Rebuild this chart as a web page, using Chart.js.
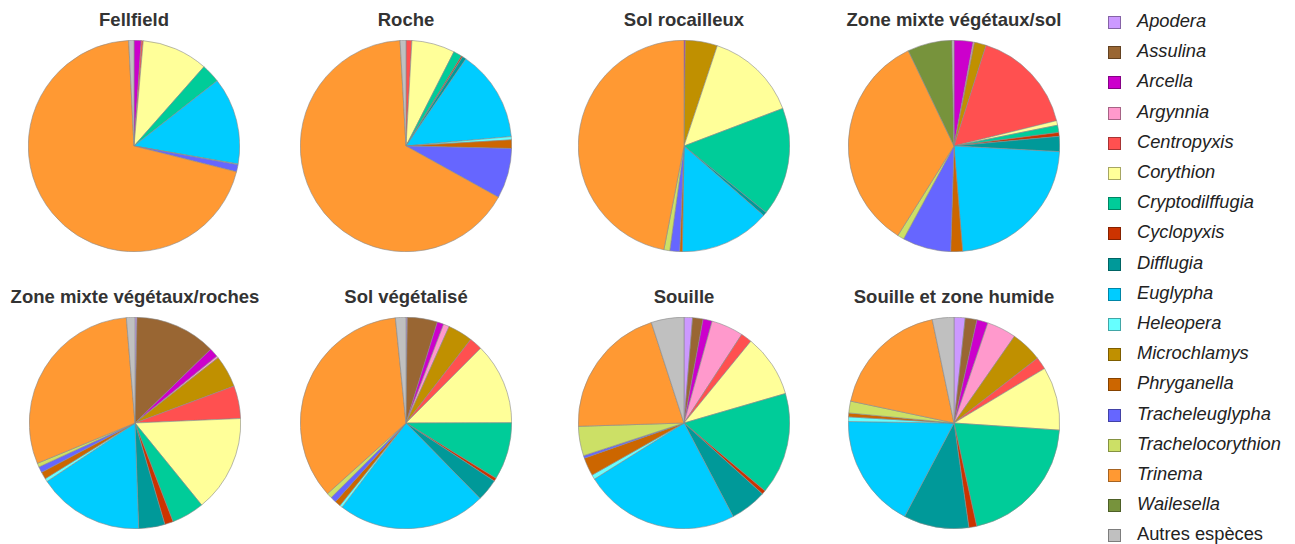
<!DOCTYPE html>
<html>
<head>
<meta charset="utf-8">
<script src="https://cdn.jsdelivr.net/npm/chart.js@4"></script>
<style>
  body { margin: 0; background: #fff; font-family: "Liberation Sans", Arial, sans-serif; }
  #wrap { position: relative; width: 1295px; height: 544px; overflow: hidden; }
  .pie { position: absolute; }
  .title { position: absolute; width: 300px; text-align: center; font-weight: bold; font-size: 18.5px; color: #333; }
  .leg { position: absolute; left: 1108px; font-size: 18.3px; color: #222; font-style: italic; white-space: nowrap; }
  .leg span.box { position: absolute; left: 0; top: 3px; width: 11px; height: 11px; border: 1px solid rgba(0,0,0,0.35); }
  .leg span.txt { position: absolute; left: 29px; top: -3px; }
</style>
</head>
<body>
<div id="wrap"></div>
<script>
// species in the order the slices are drawn (clockwise from top)
const species = ["Apodera", "Assulina", "Arcella", "Argynnia", "Microchlamys", "Centropyxis",
  "Corythion", "Cryptodilffugia", "Cyclopyxis", "Difflugia", "Euglypha", "Heleopera",
  "Phryganella", "Tracheleuglypha", "Trachelocorythion", "Trinema", "Wailesella", "Autres espèces"];
const colors = ["#cc99ff", "#996633", "#cc00cc", "#ff99cc", "#c09000", "#ff5050",
  "#ffff99", "#00cc99", "#cc3300", "#009999", "#00ccff", "#66ffff",
  "#cc6600", "#6666ff", "#cce066", "#ff9933", "#77933c", "#c0c0c0"];
// legend order
const legendOrder = ["Apodera", "Assulina", "Arcella", "Argynnia", "Centropyxis", "Corythion",
  "Cryptodilffugia", "Cyclopyxis", "Difflugia", "Euglypha", "Heleopera", "Microchlamys",
  "Phryganella", "Tracheleuglypha", "Trachelocorythion", "Trinema", "Wailesella", "Autres espèces"];

const habitats = ["Fellfield", "Roche", "Sol rocailleux", "Zone mixte végétaux/sol",
  "Zone mixte végétaux/roches", "Sol végétalisé", "Souille", "Souille et zone humide"];

// relative abundance (%), same order as species
const fellfield     = [0, 0, 1.1, 0, 0, 0.3, 10.1, 2.9, 0, 0, 13.3, 0.1, 0, 1.1, 0, 70.2, 0, 0.8];
const roche         = [0, 0, 0, 0, 0, 0.9, 6.6, 1.3, 0.2, 0.6, 14.0, 0.5, 1.3, 7.7, 0, 66.1, 0, 0.9];
const solRocailleux = [0, 0, 0.2, 0, 4.9, 0, 14.1, 16.6, 0, 0.6, 13.8, 0, 0.4, 1.5, 0.9, 46.9, 0, 0];
const mixteSol      = [0, 0, 2.9, 0.2, 1.8, 16.2, 0.7, 1.1, 0.6, 2.3, 22.8, 0, 1.8, 7.4, 1.0, 33.9, 6.8, 0.3];
const mixteRoches   = [0.3, 12.4, 1.4, 0.3, 4.9, 5.0, 14.8, 5.0, 1.3, 4.0, 16.2, 0.5, 1.1, 0.9, 0.6, 29.9, 0, 1.3];
const solVegetalise = [0.2, 4.6, 1.0, 0.9, 3.8, 2.0, 12.5, 8.8, 0.5, 3.4, 22.7, 0.4, 0.9, 0.9, 0.8, 35.1, 0, 1.6];
const souille       = [1.3, 1.6, 1.4, 4.9, 0, 1.7, 9.6, 15.6, 0.6, 5.6, 23.8, 0.7, 2.8, 0.4, 4.5, 20.5, 0, 5.0];
const souilleHumide = [1.7, 1.8, 1.7, 4.5, 4.8, 1.9, 9.7, 20.5, 1.2, 10.0, 17.5, 0.7, 0.6, 0, 1.8, 18.4, 0, 3.3];

const series = [fellfield, roche, solRocailleux, mixteSol, mixteRoches, solVegetalise, souille, souilleHumide];
const centers = [[134, 146], [406, 146], [684, 146], [954, 146], [135, 423], [406, 423], [684, 423], [954, 423]];
const size = 212;

const wrap = document.getElementById("wrap");

series.forEach((vals, i) => {
  const [cx, cy] = centers[i];
  const t = document.createElement("div");
  t.className = "title";
  t.textContent = habitats[i];
  t.style.left = (cx - 150) + "px";
  t.style.top = (cy - 137) + "px";
  wrap.appendChild(t);

  const c = document.createElement("canvas");
  c.className = "pie";
  c.width = size; c.height = size;
  c.style.left = (cx - size / 2) + "px";
  c.style.top = (cy - size / 2) + "px";
  c.style.width = size + "px"; c.style.height = size + "px";
  wrap.appendChild(c);

  new Chart(c.getContext("2d"), {
    type: "pie",
    data: {
      labels: species,
      datasets: [{ data: vals, backgroundColor: colors, borderColor: "#8a8a8a", borderWidth: 0.6 }]
    },
    options: {
      responsive: false,
      animation: false,
      layout: { padding: 0 },
      plugins: { legend: { display: false }, tooltip: { enabled: false } }
    }
  });
});

legendOrder.forEach((name, k) => {
  const idx = species.indexOf(name);
  const d = document.createElement("div");
  d.className = "leg";
  d.style.top = (13 + k * 30.2) + "px";
  if (name === "Autres espèces") d.style.fontStyle = "normal";
  d.innerHTML = '<span class="box" style="background:' + colors[idx] + '"></span><span class="txt"></span>';
  d.querySelector(".txt").textContent = name;
  wrap.appendChild(d);
});
</script>
</body>
</html>
